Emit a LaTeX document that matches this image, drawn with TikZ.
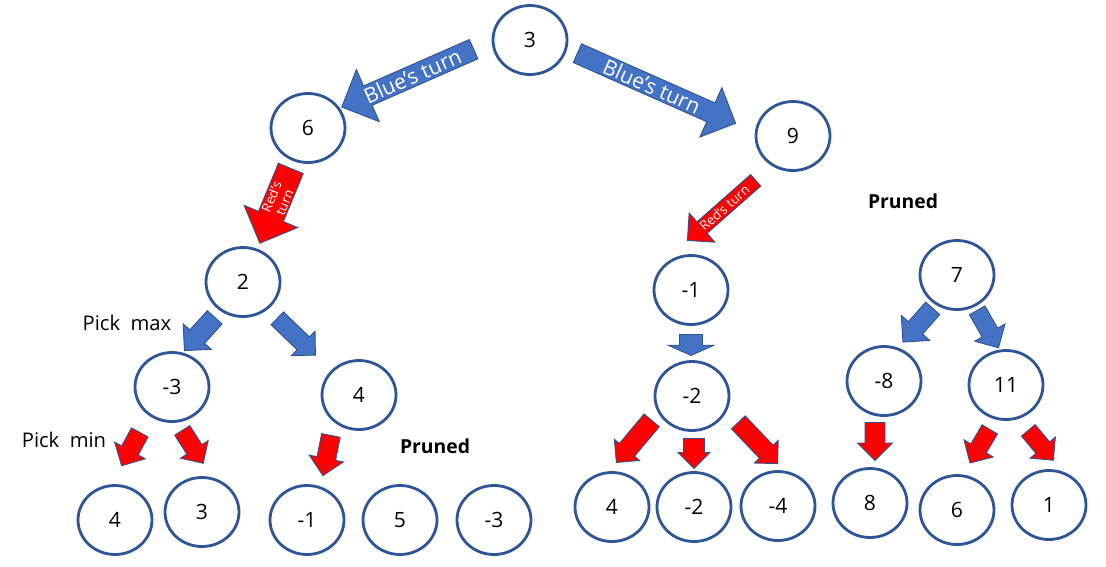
\documentclass[tikz,border=0pt]{standalone}
\usepackage{fontspec}
\setmainfont{Open Sans}
\usetikzlibrary{shapes.geometric,shapes.arrows}

\definecolor{ringblue}{HTML}{2F5597}
\definecolor{arrowblue}{HTML}{4472C4}
\definecolor{arrowred}{HTML}{FF0000}
\definecolor{arrowedge}{HTML}{2F528F}

\newcommand{\pxu}{0.02cm}

\tikzset{
  state/.style={ellipse, draw=ringblue, line width=1.6pt, fill=white,
    minimum width=74*\pxu, minimum height=69*\pxu, inner sep=0pt,
    font=\fontsize{12}{14}\selectfont},
  turn/.style={single arrow, draw=arrowedge, line width=0.5pt, inner sep=0pt,
    anchor=tail, text=white},
  blueturn/.style={turn, fill=arrowblue},
  redturn/.style={turn, fill=arrowred},
  shaft/.style={inner ysep=#1/2*\pxu},
  note/.style={font=\fontsize{11.5}{13}\selectfont},
  pruned/.style={font=\bfseries\fontsize{11}{13}\selectfont},
}

\begin{document}
\begin{tikzpicture}[x=\pxu, y=\pxu]
  \useasboundingbox (0,0) rectangle (1106,-566);

  % inner nodes
  \node[state] (n3) at (530,-40) {3};
  \node[state] (n6) at (308,-128) {6};
  \node[state] (n9) at (793,-136) {9};
  \node[state] (n2) at (243,-282) {2};
  \node[state] (nm1) at (691,-290) {-1};
  \node[state] (n7) at (957,-275) {7};
  \node[state] (nm3) at (172,-387) {-3};
  \node[state] (n4) at (359,-395) {4};
  \node[state] (nm2) at (692,-396) {-2};
  \node[state] (nm8) at (884,-381) {-8};
  \node[state] (n11) at (1006,-385) {11};

  % leaves
  \node[state] (l1) at (115,-520) {4};
  \node[state] (l2) at (202,-512) {3};
  \node[state] (l3) at (307,-520) {-1};
  \node[state] (l4) at (400,-520) {5};
  \node[state] (l5) at (494,-520) {-3};
  \node[state] (l6) at (612,-507) {4};
  \node[state] (l7) at (694,-507) {-2};
  \node[state] (l8) at (778,-506) {-4};
  \node[state] (l9) at (870,-503) {8};
  \node[state] (l10) at (957,-510) {6};
  \node[state] (l11) at (1049,-505) {1};

  % turn arrows
  \node[blueturn, rotate=23.7, shape border rotate=180, minimum height=144*\pxu,
    minimum width=57*\pxu, single arrow head extend=14.5*\pxu,
    font=\fontsize{12}{14}\selectfont] (a1) at (474,-49) {Blue’s turn};
  \node[blueturn, rotate=-23.9, minimum height=173*\pxu,
    minimum width=54*\pxu, single arrow head extend=14*\pxu,
    font=\fontsize{12}{14}\selectfont] (a2) at (577,-53) {Blue’s turn};
  \node[redturn, rotate=67.5, shape border rotate=180, minimum height=81*\pxu,
    minimum width=58*\pxu, single arrow head extend=14.5*\pxu, align=center,
    font=\fontsize{7.5}{8}\selectfont] (a3) at (291,-168) {Red’s\\turn};
  \node[redturn, rotate=41.4, shape border rotate=180, minimum height=91*\pxu,
    minimum width=39*\pxu, single arrow head extend=8.5*\pxu,
    font=\fontsize{7.5}{8}\selectfont] (a4) at (756,-180) {Red’s turn};

  % left subtree
  \node[blueturn, shaft=19, rotate=227.7, minimum height=45*\pxu, minimum width=37*\pxu,
    single arrow head extend=9*\pxu] (a5) at (215,-317) {};
  \node[blueturn, shaft=17, rotate=-44, minimum height=53*\pxu, minimum width=33*\pxu,
    single arrow head extend=8*\pxu] (a6) at (277,-318) {};
  \node[redturn, shaft=18, rotate=241.4, minimum height=38*\pxu, minimum width=34*\pxu,
    single arrow head extend=8*\pxu] (a7) at (140,-432) {};
  \node[redturn, shaft=17, rotate=-57.5, minimum height=39*\pxu, minimum width=32*\pxu,
    single arrow head extend=7.5*\pxu] (a8) at (182,-430) {};
  \node[redturn, shaft=18, rotate=258.7, minimum height=41*\pxu, minimum width=34*\pxu,
    single arrow head extend=8*\pxu] (a9) at (331,-435) {};

  % right subtree
  \node[blueturn, shaft=22, rotate=-90, minimum height=21*\pxu, minimum width=45*\pxu,
    single arrow head extend=11.5*\pxu, single arrow tip angle=132] (a10) at (691,-334) {};
  \node[redturn, shaft=19, rotate=230, minimum height=55*\pxu, minimum width=32*\pxu,
    single arrow head extend=6.5*\pxu] (a11) at (652,-420) {};
  \node[redturn, shaft=20, rotate=-90, minimum height=30*\pxu, minimum width=31*\pxu,
    single arrow head extend=5.5*\pxu] (a12) at (694,-438) {};
  \node[redturn, shaft=18, rotate=-46.4, minimum height=57*\pxu, minimum width=32*\pxu,
    single arrow head extend=7*\pxu] (a13) at (738,-422) {};
  \node[blueturn, shaft=18, rotate=228.6, minimum height=45*\pxu, minimum width=37*\pxu,
    single arrow head extend=9.5*\pxu] (a14) at (933,-308) {};
  \node[blueturn, shaft=17, rotate=-60.4, minimum height=43*\pxu, minimum width=34*\pxu,
    single arrow head extend=8.5*\pxu] (a15) at (977,-310) {};
  \node[redturn, shaft=19, rotate=-90, minimum height=38*\pxu, minimum width=34*\pxu,
    single arrow head extend=7.5*\pxu] (a16) at (875,-422) {};
  \node[redturn, shaft=17, rotate=239.5, minimum height=39*\pxu, minimum width=33*\pxu,
    single arrow head extend=8*\pxu] (a17) at (990,-429) {};
  \node[redturn, shaft=17, rotate=-50, minimum height=39*\pxu, minimum width=32*\pxu,
    single arrow head extend=7.5*\pxu] (a18) at (1028,-430) {};

  % labels
  \node[note] (pmax) at (127,-323) {Pick\ \ max};
  \node[note] (pmin) at (64,-440) {Pick\ \ min};
  \node[pruned] (pr1) at (903,-201) {Pruned};
  \node[pruned] (pr2) at (435,-446) {Pruned};
\end{tikzpicture}
\end{document}
